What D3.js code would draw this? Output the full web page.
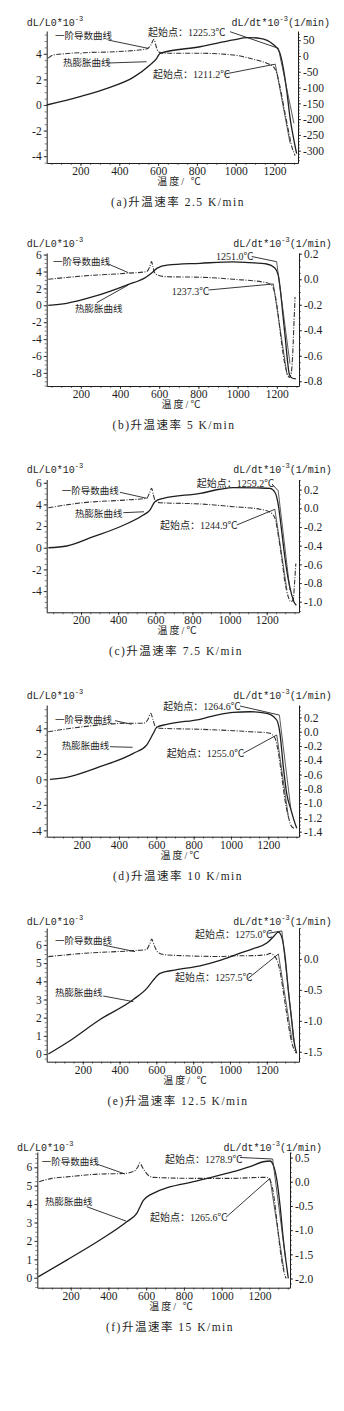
<!DOCTYPE html>
<html>
<head>
<meta charset="utf-8">
<script src="https://cdn.jsdelivr.net/npm/d3@7"></script>
<style>
body { margin: 0; background: #fff; }
svg { display: block; }
</style>
</head>
<body>
<div id="chart"></div>
<script>
const W = 344, H = 1411;
const SERIF = "'Liberation Serif', 'Noto Sans CJK SC', serif";
const MONO = "'Liberation Mono', monospace";
const INK = "#1e1e1e";

// captions and ticks
const captions = ["(a)升温速率 2.5 K/min", "(b)升温速率 5 K/min", "(c)升温速率 7.5 K/min",
  "(d)升温速率 10 K/min", "(e)升温速率 12.5 K/min", "(f)升温速率 15 K/min"];
const xTicks = [200, 400, 600, 800, 1000, 1200];
const leftTicks_a = [-4, -2, 0, 2, 4];
const leftTicks_b = [-8, -6, -4, -2, 0, 2, 4, 6];
const leftTicks_c = [-4, -2, 0, 2, 4, 6];
const leftTicks_d = [-4, -2, 0, 2, 4];
const leftTicks_e = [0, 1, 2, 3, 4, 5, 6];
const leftTicks_f = [0, 1, 2, 3, 4, 5, 6];
const rightTicks_a = [50, 0, -50, -100, -150, -200, -250, -300];
const rightTicks_b = [0.2, 0, -0.2, -0.4, -0.6, -0.8];
const rightTicks_c = [0.2, 0, -0.2, -0.4, -0.6, -0.8, -1.0];
const rightTicks_d = [0.2, 0, -0.2, -0.4, -0.6, -0.8, -1.0, -1.2, -1.4];
const rightTicks_e = [0, -0.5, -1.0, -1.5];
const rightTicks_f = [0.5, 0, -0.5, -1.0, -1.5, -2.0];

// thermal expansion curves [T, dL/L0*1e-3]
const exp_a = [[26,0],[197,0.65],[352,1.38],[472,2.16],[558,3.13],[593,3.65],[610,4.04],[816,4.55],[988,5.08],[1060,5.27],[1125,5.21],[1194,4.72],[1225,4.16],[1245,2.9],[1263,1.1],[1280,-1.0],[1297,-2.5],[1314,-3.8]];
const exp_b = [[34,0],[128,0.24],[263,1.02],[434,2.4],[536,3.38],[569,3.98],[590,4.4],[640,4.75],[808,4.97],[978,5.15],[1060,5.05],[1148,4.89],[1190,4.41],[1207,3.58],[1218,1.8],[1231,-1.15],[1244,-4.1],[1254,-6.5],[1264,-8.2],[1277,-8.6],[1297,-8.7]];
const exp_c = [[24,0],[123,0.16],[266,1.02],[410,1.94],[535,3.02],[571,3.48],[598,4.25],[643,4.56],[842,5.02],[948,5.4],[1020,5.55],[1150,5.52],[1218,5.48],[1245,5.1],[1262,4.0],[1281,1.5],[1298,-0.9],[1316,-2.9],[1334,-4.3],[1350,-5.1],[1360,-5.3]];
const exp_d = [[31,0],[120,0.16],[298,0.99],[477,2.04],[548,2.69],[584,3.61],[602,4.08],[656,4.31],[834,4.71],[941,5.1],[1012,5.25],[1102,5.3],[1191,5.18],[1209,5.1],[1245,4.65],[1262,3.6],[1280,1.0],[1298,-1.1],[1321,-2.4],[1337,-3.2],[1352,-3.84]];
const exp_e = [[13,0],[113,0.62],[294,1.9],[475,3.0],[548,3.61],[584,4.07],[620,4.44],[700,4.62],[837,4.85],[946,5.15],[1055,5.55],[1127,5.8],[1200,6.1],[1236,6.45],[1263,6.7],[1282,6.4],[1300,5.3],[1317,3.5],[1336,1.8],[1348,0.7],[1362,0.04]];
const exp_f = [[28,0.05],[179,0.96],[355,2.05],[497,3.04],[550,3.5],[585,4.2],[620,4.5],[885,5.3],[1061,5.76],[1150,6.03],[1220,6.3],[1256,6.34],[1273,6.13],[1291,5.4],[1309,3.95],[1326,2.14],[1341,0.87],[1353,-0.03]];

// first derivative curves [T, dL/dt*1e-3]
const der_a = [[34,-7],[60,3],[120,7],[190,10],[200,7],[212,10],[386,13.6],[541,22],[562,34],[579,53],[590,30],[601,13.6],[627,8.5],[816,8.5],[988,3],[1091,-10.4],[1160,-23],[1194,-34],[1212,-55],[1228,-97],[1254,-181],[1271,-234],[1289,-287],[1306,-315]];
const der_b = [[34,0],[212,0.026],[434,0.047],[536,0.06],[552,0.1],[561,0.138],[568,0.1],[575,0.055],[590,0.034],[638,0.02],[808,0.016],[978,0.0],[1148,-0.027],[1173,-0.045],[1188,-0.10],[1200,-0.20],[1213,-0.36],[1226,-0.52],[1239,-0.65],[1251,-0.73],[1264,-0.77],[1274,-0.73],[1282,-0.55],[1288,-0.32],[1293,-0.14]];
const der_c = [[24,0.006],[212,0.06],[446,0.089],[554,0.107],[570,0.17],[580,0.214],[590,0.14],[598,0.089],[625,0.06],[842,0.046],[1020,0.017],[1164,-0.01],[1218,-0.043],[1245,-0.107],[1262,-0.286],[1281,-0.535],[1298,-0.786],[1316,-0.946],[1329,-1.0],[1343,-0.98],[1350,-0.8],[1357,-0.59]];
const der_d = [[21,0],[209,0.07],[441,0.118],[530,0.118],[555,0.17],[570,0.258],[582,0.17],[593,0.08],[620,0.048],[834,0.034],[1012,0.014],[1102,0],[1191,-0.014],[1209,-0.023],[1236,-0.093],[1254,-0.3],[1272,-0.63],[1289,-0.957],[1307,-1.19],[1325,-1.33],[1337,-1.35]];
const der_e = [[13,0.037],[203,0.09],[475,0.134],[545,0.15],[565,0.25],[575,0.32],[588,0.22],[611,0.1],[656,0.065],[946,0.04],[1018,0.05],[1127,0.053],[1200,0.07],[1218,0.09],[1245,0.037],[1272,-0.2],[1290,-0.53],[1309,-0.9],[1327,-1.23],[1345,-1.44],[1359,-1.52]];
const der_f = [[33,0.0],[100,0.07],[179,0.1],[355,0.16],[478,0.17],[532,0.21],[555,0.3],[567,0.39],[580,0.3],[594,0.21],[637,0.09],[885,0.07],[1061,0.07],[1203,0.09],[1238,0.09],[1256,0.035],[1273,-0.21],[1291,-0.76],[1309,-1.38],[1326,-1.79],[1341,-2.0]];

// onset labels: [upper (expansion, left axis), lower (derivative, right axis)]
// at = tangent intersection, steep = end of the steep tangent
const onset_a = [{text:"起始点：1225.3℃", at:[1220,4.43], steep:[1300,-1.43]}, {text:"起始点：1211.2℃", at:[1204,-26], steep:[1280,-276]}];
const onset_b = [{text:"1251.0℃", at:[1199,5.16], steep:[1267,-6.9]}, {text:"1237.3℃", at:[1182,-0.037], steep:[1252,-0.75]}];
const onset_c = [{text:"起始点：1259.2℃", at:[1262,5.26], steep:[1325,-3.9]}, {text:"起始点：1244.9℃", at:[1244,-0.011], steep:[1309,-0.875]}];
const onset_d = [{text:"起始点：1264.6℃", at:[1259,5.04], steep:[1321,-2.4]}, {text:"起始点：1255.0℃", at:[1245,-0.046], steep:[1307,-1.19]}];
const onset_e = [{text:"起始点：1275.0℃", at:[1282,6.77], steep:[1348,0.68]}, {text:"起始点：1257.5℃", at:[1263,0.08], steep:[1337,-1.31]}];
const onset_f = [{text:"起始点：1278.9℃", at:[1270,6.45], steep:[1338,1.07]}, {text:"起始点：1265.6℃", at:[1256,0.07], steep:[1330,-1.83]}];

// where the curve-name leaders touch: [derivative (right axis), expansion (left axis)]
const point_a = [[549,24],[541,3.38]];
const point_b = [[442,0.052],[442,2.4]];
const point_c = [[554,0.107],[539,3.32]];
const point_d = [[468,0.104],[473,2.51]];
const point_e = [[484,0.118],[475,2.88]];
const point_f = [[488,0.16],[493,3.08]];

const fmtInt = d => String(d);
const fmt1 = d => d.toFixed(1);

// layout per panel; labels: [x, y, leaderX, leaderY] for deriv name, exp name, upper onset, lower onset
const PANELS = [
  {exp: exp_a, der: der_a, lt: leftTicks_a, rt: rightTicks_a, on: onset_a, pt: point_a, rf: fmtInt,
   left: 46.7, right: 298, top: 31, bottom: 163, xDom: [26, 1321], lDom: [-4.53, 5.78], rDom: [-339, 79],
   lMinor: 0.5, rMinor: 10, titleY: 22, titleL: 26.7, titleR: 330, xlab: "温度/ ℃", xlabX: 180, capX: 178,
   labels: [[55,36,108,40],[63,63,108,63],[148,32,230,31.7],[153,74,225,74]]},
  {exp: exp_b, der: der_b, lt: leftTicks_b, rt: rightTicks_b, on: onset_b, pt: point_b, rf: fmt1,
   left: 46.7, right: 299, top: 253, bottom: 386, xDom: [26, 1313], lDom: [-9.55, 6.19], rDom: [-0.837, 0.206],
   lMinor: 0.5, rMinor: 0.05, titleY: 243.5, titleL: 26.7, titleR: 331.7, xlab: "温度/℃", xlabX: 182, capX: 174,
   labels: [[53,261.7,106.7,263.3],[75,308.3,96.7,302.7],[216,256,251.7,256.5],[171.7,291.7,208.3,290]]},
  {exp: exp_c, der: der_c, lt: leftTicks_c, rt: rightTicks_c, on: onset_c, pt: point_c, rf: fmt1,
   left: 46.7, right: 299, top: 479.5, bottom: 612.3, xDom: [15, 1374], lDom: [-5.96, 6.3], rDom: [-1.113, 0.308],
   lMinor: 0.5, rMinor: 0.05, titleY: 469, titleL: 26.7, titleR: 331.7, xlab: "温度/℃", xlabX: 178, capX: 176,
   labels: [[61.7,491,120,492.3],[75,513.3,123.3,512.7],[196.7,483.3,272,484],[160,525,236.7,525]]},
  {exp: exp_d, der: der_d, lt: leftTicks_d, rt: rightTicks_d, on: onset_d, pt: point_d, rf: fmt1,
   left: 46.7, right: 299, top: 705, bottom: 836.7, xDom: [13, 1364], lDom: [-4.5, 5.83], rDom: [-1.47, 0.374],
   lMinor: 0.5, rMinor: 0.05, titleY: 695, titleL: 26.7, titleR: 331.7, xlab: "温度/℃", xlabX: 181, capX: 178,
   labels: [[55,719.3,115,720.7],[61.7,746,110,746.7],[163.3,706,240,706],[166.7,753.3,243.3,753.3]]},
  {exp: exp_e, der: der_e, lt: leftTicks_e, rt: rightTicks_e, on: onset_e, pt: point_e, rf: fmt1,
   left: 46.7, right: 299, top: 928, bottom: 1061.7, xDom: [4, 1375], lDom: [-0.42, 6.93], rDom: [-1.66, 0.5],
   lMinor: 0.25, rMinor: 0.1, titleY: 921, titleL: 26.7, titleR: 331.7, xlab: "温度/ ℃", xlabX: 186, capX: 178,
   labels: [[55,941,103.3,945],[55,992.7,103.3,996],[195,934,268.3,933.3],[175,977.7,248.3,978.3]]},
  {exp: exp_f, der: der_f, lt: leftTicks_f, rt: rightTicks_f, on: onset_f, pt: point_f, rf: fmt1,
   left: 37.3, right: 290, top: 1152, bottom: 1287.7, xDom: [23, 1362], lDom: [-0.54, 6.83], rDom: [-2.19, 0.615],
   lMinor: 0.25, rMinor: 0.1, titleY: 1147, titleL: 17, titleR: 322, xlab: "温度/ ℃", xlabX: 172, capX: 170,
   labels: [[41.7,1161.7,96.7,1164],[45,1201.7,86.7,1206.7],[165,1159,240,1157.5],[150,1217.3,226,1217.3]]}
];

const svg = d3.select("#chart").append("svg")
  .attr("width", W).attr("height", H)
  .attr("viewBox", `0 0 ${W} ${H}`);
svg.append("rect").attr("width", W).attr("height", H).attr("fill", "#fff");

function minorValues(dom, step) {
  const lo = Math.min(dom[0], dom[1]), hi = Math.max(dom[0], dom[1]);
  return d3.range(Math.ceil(lo / step - 1e-9) * step, hi + 1e-9, step);
}

function styleAxis(sel) {
  sel.attr("font-family", SERIF).attr("font-size", 11.5);
  sel.select(".domain").attr("stroke", INK).attr("stroke-width", 1);
  sel.selectAll(".tick line").attr("stroke", INK).attr("stroke-width", 0.8);
  sel.selectAll(".tick text").attr("font-family", SERIF).attr("font-size", 11.5).attr("fill", INK);
}

// title made of separate pieces so the superscript sits beside its base text
function axisTitle(g, parts, x, y, anchorEnd) {
  const nodes = parts.map(pt => g.append("text")
    .attr("y", y + (pt.sup ? -3.5 : 0)).attr("dy", "0.35em")
    .attr("font-family", MONO).attr("font-size", pt.sup ? 7 : 10)
    .attr("fill", INK).text(pt.t));
  const widths = nodes.map(n => n.node().getComputedTextLength());
  let cx = anchorEnd ? x - d3.sum(widths) : x;
  nodes.forEach((n, k) => { n.attr("x", cx); cx += widths[k]; });
}

PANELS.forEach((p, i) => {
  const g = svg.append("g");
  const x = d3.scaleLinear().domain(p.xDom).range([p.left, p.right]);
  const yL = d3.scaleLinear().domain(p.lDom).range([p.bottom, p.top]);
  const yR = d3.scaleLinear().domain(p.rDom).range([p.bottom, p.top]);

  // minor ticks
  g.append("g").attr("transform", `translate(0,${p.bottom})`)
    .call(d3.axisBottom(x).tickValues(minorValues(p.xDom, 50)).tickSize(2).tickFormat(""))
    .call(s => s.select(".domain").remove())
    .selectAll("line").attr("stroke", INK).attr("stroke-width", 0.6);
  g.append("g").attr("transform", `translate(${p.left},0)`)
    .call(d3.axisLeft(yL).tickValues(minorValues(p.lDom, p.lMinor)).tickSize(2).tickFormat(""))
    .call(s => s.select(".domain").remove())
    .selectAll("line").attr("stroke", INK).attr("stroke-width", 0.6);
  g.append("g").attr("transform", `translate(${p.right},0)`)
    .call(d3.axisRight(yR).tickValues(minorValues(p.rDom, p.rMinor)).tickSize(2).tickFormat(""))
    .call(s => s.select(".domain").remove())
    .selectAll("line").attr("stroke", INK).attr("stroke-width", 0.6);

  // main axes
  g.append("g").attr("transform", `translate(0,${p.bottom})`)
    .call(d3.axisBottom(x).tickValues(xTicks).tickSize(3).tickSizeOuter(0).tickPadding(1).tickFormat(fmtInt))
    .call(styleAxis);
  g.append("g").attr("transform", `translate(${p.left},0)`)
    .call(d3.axisLeft(yL).tickValues(p.lt).tickSize(3).tickSizeOuter(0).tickPadding(2).tickFormat(fmtInt))
    .call(styleAxis);
  g.append("g").attr("transform", `translate(${p.right},0)`)
    .call(d3.axisRight(yR).tickValues(p.rt).tickSize(3).tickSizeOuter(0).tickPadding(2).tickFormat(p.rf))
    .call(styleAxis);

  // curves
  const lineL = d3.line().x(d => x(d[0])).y(d => yL(d[1])).curve(d3.curveMonotoneX);
  const lineR = d3.line().x(d => x(d[0])).y(d => yR(d[1])).curve(d3.curveMonotoneX);
  g.append("path").datum(p.der).attr("d", lineR)
    .attr("fill", "none").attr("stroke", "#333").attr("stroke-width", 1.1)
    .attr("stroke-dasharray", "5,1.5,1,1.5");
  g.append("path").datum(p.exp).attr("d", lineL)
    .attr("fill", "none").attr("stroke", INK).attr("stroke-width", 1.3);

  // onset tangents
  const ys = [yL, yR];
  p.on.forEach((o, k) => {
    const y = ys[k];
    g.append("line")
      .attr("x1", x(o.at[0])).attr("y1", y(o.at[1]))
      .attr("x2", x(o.steep[0])).attr("y2", y(o.steep[1]))
      .attr("stroke", "#333").attr("stroke-width", 0.8);
  });

  // annotation labels and leaders
  const targets = [
    [x(p.pt[0][0]), yR(p.pt[0][1])],
    [x(p.pt[1][0]), yL(p.pt[1][1])],
    [x(p.on[0].at[0]), yL(p.on[0].at[1])],
    [x(p.on[1].at[0]), yR(p.on[1].at[1])]
  ];
  const texts = ["一阶导数曲线", "热膨胀曲线", p.on[0].text, p.on[1].text];
  p.labels.forEach((lb, k) => {
    g.append("text")
      .attr("x", lb[0]).attr("y", lb[1]).attr("dy", "0.35em")
      .attr("font-family", SERIF).attr("font-size", k < 2 ? 9.5 : 10)
      .attr("fill", INK).text(texts[k]);
    g.append("line")
      .attr("x1", lb[2]).attr("y1", lb[3])
      .attr("x2", targets[k][0]).attr("y2", targets[k][1])
      .attr("stroke", "#222").attr("stroke-width", 0.9);
  });

  // axis titles
  axisTitle(g, [{t: "dL/L0*10"}, {t: "-3", sup: true}], p.titleL, p.titleY, false);
  axisTitle(g, [{t: "dL/dt*10"}, {t: "-3", sup: true}, {t: "(1/min)"}], p.titleR, p.titleY, true);

  // x label and caption
  g.append("text").attr("x", p.xlabX).attr("y", p.bottom + 22)
    .attr("text-anchor", "middle").attr("font-family", SERIF).attr("font-size", 10)
    .attr("letter-spacing", 2).attr("fill", INK).text(p.xlab);
  g.append("text").attr("x", p.capX).attr("y", p.bottom + 39).attr("dy", "0.35em")
    .attr("text-anchor", "middle").attr("font-family", SERIF).attr("font-size", 11.5)
    .attr("letter-spacing", 1.5).attr("fill", INK).text(captions[i]);
});
</script>
</body>
</html>
